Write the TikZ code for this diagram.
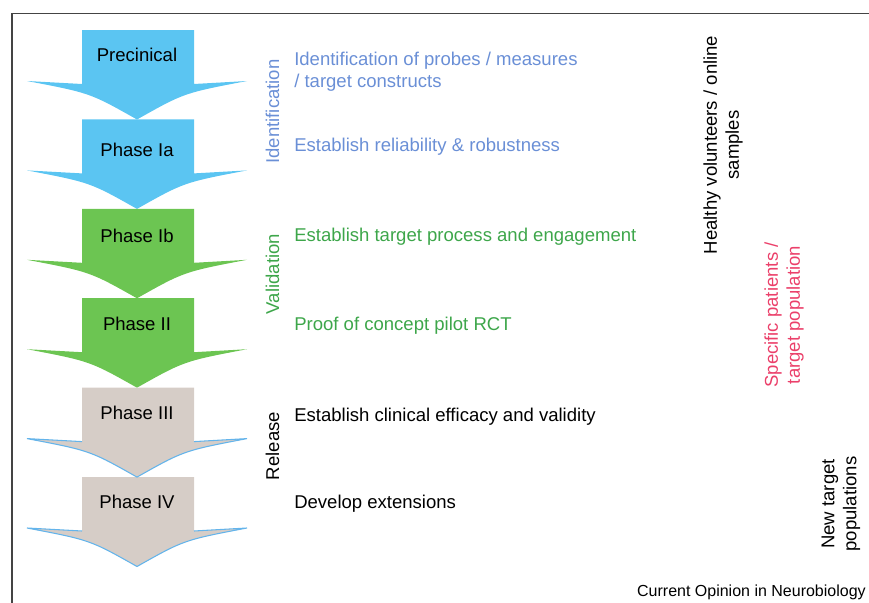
\documentclass[tikz,border=0pt]{standalone}
\usepackage{fontspec}
\setmainfont{Liberation Sans}
\usepackage{tikz}
\usetikzlibrary{positioning}

\definecolor{arrBlue}{RGB}{91,197,242}
\definecolor{arrGreen}{RGB}{108,197,82}
\definecolor{arrGrey}{RGB}{214,205,199}
\definecolor{edgeBlue}{RGB}{100,180,235}
\definecolor{txtBlue}{RGB}{106,143,214}
\definecolor{txtGreen}{RGB}{61,166,74}
\definecolor{txtPink}{RGB}{235,64,106}
\definecolor{frameGrey}{RGB}{68,68,68}

\begin{document}
\begin{tikzpicture}
  [x=0.75pt,y=-0.75pt,
   font=\fontsize{13.9}{16.5}\selectfont,
   phaseN/.style={inner sep=0pt,black},
   stepN/.style={inner sep=0pt,anchor=base west,align=left},
   stageN/.style={inner sep=0pt,rotate=90},
   groupN/.style={inner sep=0pt,rotate=90,align=center}]

  \useasboundingbox (0,0) rectangle (869,603);
  \draw [frameGrey,line width=1.2pt] (12,603) -- (12,13.5) -- (869,13.5);

  % arrows
  \foreach \t/\col in {30/arrBlue,119.4/arrBlue,208.8/arrGreen,298.2/arrGreen,387.6/arrGrey,477/arrGrey}
    \fill [\col] (82,\t) -- (194,\t) -- (194,\t+54) -- (247,\t+51)
      .. controls (184,\t+63) .. (137,\t+89.5)
      .. controls (90,\t+63) .. (27,\t+51) -- (82,\t+54) -- cycle;
  \foreach \t in {387.6,477}
    \draw [edgeBlue,line width=0.8pt] (194,\t+54) -- (247,\t+51)
      .. controls (184,\t+63) .. (137,\t+89.5)
      .. controls (90,\t+63) .. (27,\t+51) -- (82,\t+54);

  \node[phaseN] (pre)  at (137,55)    {Precinical};
  \node[phaseN] (p1a)  at (137,150)   {Phase Ia};
  \node[phaseN] (p1b)  at (137,235.5) {Phase Ib};
  \node[phaseN] (p2)   at (137,324)   {Phase II};
  \node[phaseN] (p3)   at (137,412.5) {Phase III};
  \node[phaseN] (p4)   at (137,501.5) {Phase IV};

  \node[stageN,txtBlue]  (ident)   at (272.5,111.5) {Identification};
  \node[stageN,txtGreen] (valid)   at (272.5,274)   {Validation};
  \node[stageN]          (release) at (272.5,446)   {Release};

  \node[stepN,txtBlue]  (probes)   at (294,87)    {Identification of probes / measures\\/ target constructs};
  \node[stepN,txtBlue]  (reliab)   at (294,151.7) {Establish reliability \& robustness};
  \node[stepN,txtGreen] (engage)   at (294,241.7) {Establish target process and engagement};
  \node[stepN,txtGreen] (pilot)    at (294,330)   {Proof of concept pilot RCT};
  \node[stepN]          (efficacy) at (294,421.7) {Establish clinical efficacy and validity};
  \node[stepN]          (extend)   at (294,508)   {Develop extensions};

  \node[groupN]         (healthy)  at (723,145) {Healthy volunteers / online\\samples};
  \node[groupN,txtPink] (patients) at (784,315) {Specific patients /\\target population};
  \node[groupN]         (newpop)   at (841,504) {New target\\populations};

  \node[inner sep=0pt,anchor=base east,font=\fontsize{12}{14}\selectfont] (credit) at (866,596) {Current Opinion in Neurobiology};

\end{tikzpicture}
\end{document}
